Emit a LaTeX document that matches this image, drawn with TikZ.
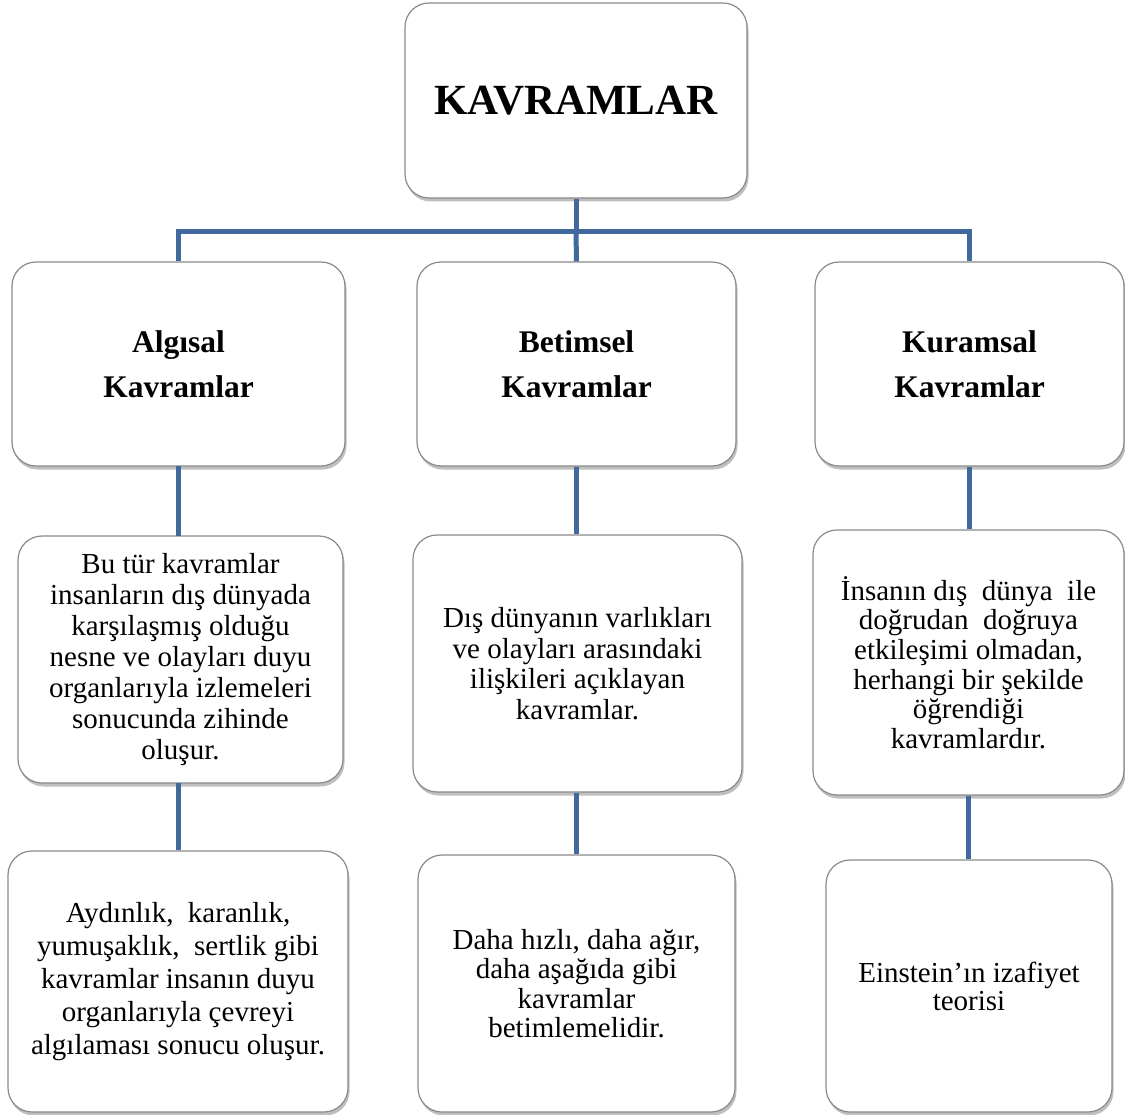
\documentclass[tikz,border=0pt]{standalone}
\usepackage{fontspec}
\setmainfont{Liberation Serif}
\usetikzlibrary{shadows}
\definecolor{conncol}{HTML}{41699D}
\definecolor{boxborder}{HTML}{8A8A8A}
\tikzset{
  cbox/.style={draw=boxborder, line width=1.2pt, fill=white, rounded corners=24pt,
    align=center, inner sep=0pt,
    drop shadow={shadow xshift=1.5pt, shadow yshift=-3.5pt, fill=black, opacity=0.25}},
  titletext/.style={font=\fontsize{43}{48}\selectfont\bfseries},
  headtext/.style={font=\fontsize{31.5}{45}\selectfont\bfseries},
  bodytext/.style={font=\fontsize{29}{30.5}\selectfont},
  conn/.style={draw=conncol, line width=5pt, line join=miter}
}
\begin{document}
\begin{tikzpicture}[x=1pt,y=-1pt]
\useasboundingbox (0,0) rectangle (1125,1115);
% top
\node[cbox, titletext, minimum width=342pt, minimum height=195pt] (top) at (576,100.5) {KAVRAMLAR};
% level 2
\node[cbox, headtext, minimum width=333pt, minimum height=204pt] (A2) at (178.5,364) {Algısal\\Kavramlar};
\node[cbox, headtext, minimum width=319pt, minimum height=204pt] (B2) at (576.5,364) {Betimsel\\Kavramlar};
\node[cbox, headtext, minimum width=309pt, minimum height=204pt] (C2) at (969.5,364) {Kuramsal\\Kavramlar};
% level 3
\node[cbox, bodytext, font=\fontsize{29}{31}\selectfont, minimum width=325pt, minimum height=247pt] (A3) at (180.5,659.5)
  {Bu tür kavramlar\\insanların dış dünyada\\karşılaşmış olduğu\\nesne ve olayları duyu\\organlarıyla izlemeleri\\sonucunda zihinde\\oluşur.};
\node[cbox, bodytext, minimum width=329pt, minimum height=257pt] (B3) at (577.5,663.5)
  {Dış dünyanın varlıkları\\ve olayları arasındaki\\ilişkileri açıklayan\\kavramlar.};
\node[cbox, bodytext, font=\fontsize{29}{29.7}\selectfont, minimum width=311pt, minimum height=265pt] (C3) at (968.5,662.5)
  {İnsanın dış\ \ dünya\ \ ile\\doğrudan\ \ doğruya\\etkileşimi olmadan,\\herhangi bir şekilde\\öğrendiği\\kavramlardır.};
% level 4
\node[cbox, bodytext, font=\fontsize{29}{33}\selectfont, minimum width=340pt, minimum height=261pt] (A4) at (178,981.5)
  {Aydınlık,\ \ karanlık,\\yumuşaklık,\ \ sertlik gibi\\kavramlar insanın duyu\\organlarıyla çevreyi\\algılaması sonucu oluşur.};
\node[cbox, bodytext, font=\fontsize{29}{29.5}\selectfont, minimum width=317pt, minimum height=257pt] (B4) at (576.5,983.5)
  {Daha hızlı, daha ağır,\\daha aşağıda gibi\\kavramlar\\betimlemelidir.};
\node[cbox, bodytext, font=\fontsize{29}{28}\selectfont, minimum width=286pt, minimum height=252pt] (C4) at (969,986)
  {Einstein’ın izafiyet\\teorisi};
% connectors
\coordinate (bus) at (576,232);
\draw[conn] (top.south) -- (bus);
\draw[conn] (A2.north -| 178,0) -- (178,232) -- (969,232) -- (C2.north -| 969,0);
\draw[conn] (bus) -- (B2.north);
\draw[conn] (178,466) -- (178,536);
\draw[conn] (B2.south -| 576,0) -- (B3.north -| 576,0);
\draw[conn] (C2.south -| 969,0) -- (C3.north -| 969,0);
\draw[conn] (178,783) -- (A4.north -| 178,0);
\draw[conn] (B3.south -| 576,0) -- (B4.north -| 576,0);
\draw[conn] (C3.south -| 968,0) -- (C4.north -| 968,0);
\end{tikzpicture}
\end{document}
